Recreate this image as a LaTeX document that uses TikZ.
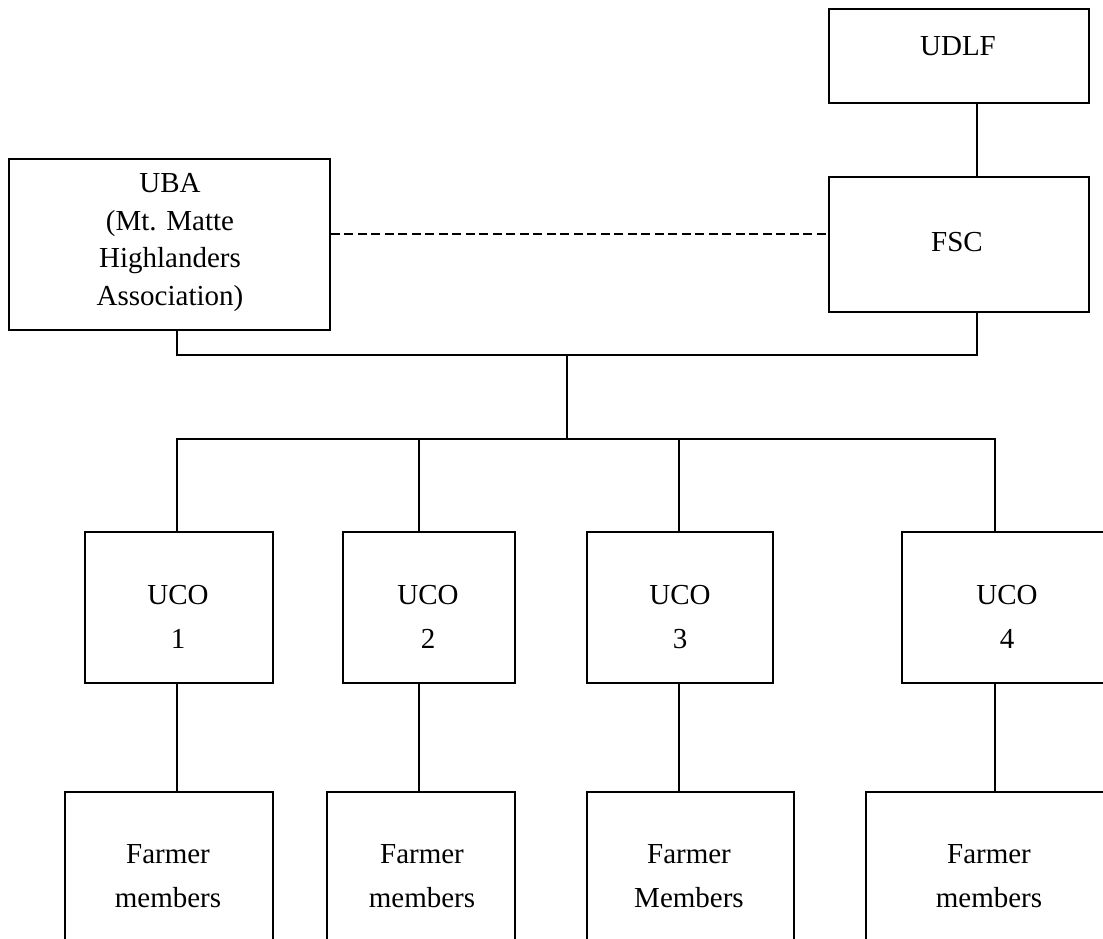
\documentclass[tikz,border=0pt]{standalone}
\usepackage{fontspec}
\setmainfont{Liberation Serif}
\begin{document}
\begin{tikzpicture}[x=1pt,y=-1pt,
  box/.style={draw=black, line width=1.6pt, rectangle, inner sep=0pt, fill=none},
  txt/.style={inner sep=0pt, align=center, font=\fontsize{29}{43.5}\selectfont},
  txtuba/.style={inner sep=0pt, align=center, font=\fontsize{29}{37.5}\selectfont},
  link/.style={draw=black, line width=1.6pt},
  dlink/.style={draw=black, line width=1.8pt, dash pattern=on 9pt off 4.5pt}]
\useasboundingbox (0,0) rectangle (1103,938);
\clip (0,0) rectangle (1103,938);
% top row
\node[box, minimum width=260pt, minimum height=94pt] (udlf) at (959,56) {};
\node[box, minimum width=260pt, minimum height=135pt] (fsc) at (959,244.5) {};
\node[box, minimum width=321pt, minimum height=171pt] (uba) at (169.5,244.5) {};
\node[txt, anchor=base] (udlft) at (958,55) {UDLF};
\node[txt, anchor=base] (fsct) at (957,251) {FSC};
\node[txtuba, anchor=base] (ubat) at (170,305) {UBA\\(Mt. Matte\\Highlanders\\Association)};
% UCO row
\node[box, minimum width=188pt, minimum height=151pt] (uco1) at (179,607.5) {};
\node[box, minimum width=172pt, minimum height=151pt] (uco2) at (429,607.5) {};
\node[box, minimum width=186pt, minimum height=151pt] (uco3) at (680,607.5) {};
\node[box, minimum width=210pt, minimum height=151pt] (uco4) at (1007,607.5) {};
\node[txt, anchor=base] (uco1t) at (178,648) {UCO\\1};
\node[txt, anchor=base] (uco2t) at (428,648) {UCO\\2};
\node[txt, anchor=base] (uco3t) at (680,648) {UCO\\3};
\node[txt, anchor=base] (uco4t) at (1007,648) {UCO\\4};
% Farmer row
\node[box, minimum width=208pt, minimum height=220pt] (fm1) at (169,902) {};
\node[box, minimum width=188pt, minimum height=220pt] (fm2) at (421,902) {};
\node[box, minimum width=207pt, minimum height=220pt] (fm3) at (690.5,902) {};
\node[box, minimum width=246pt, minimum height=220pt] (fm4) at (989,902) {};
\node[txt, anchor=base] (fm1t) at (168,907) {Farmer\\members};
\node[txt, anchor=base] (fm2t) at (422,907) {Farmer\\members};
\node[txt, anchor=base] (fm3t) at (689,907) {Farmer\\Members};
\node[txt, anchor=base] (fm4t) at (989,907) {Farmer\\members};
% junction coordinates
\coordinate (cL) at (177,355);
\coordinate (cR) at (977,355);
\coordinate (tT) at (567,355);
\coordinate (tB) at (567,439);
\coordinate (b1) at (177,439);
\coordinate (b2) at (419,439);
\coordinate (b3) at (679,439);
\coordinate (b4) at (995,439);
\coordinate (dy) at (0,234);
% connectors
\draw[link] (udlf.south -| cR) -- (fsc.north -| cR);
\draw[dlink] (uba.east |- dy) -- (fsc.west |- dy);
\draw[link] (uba.south -| cL) -- (cL) -- (cR) -- (fsc.south -| cR);
\draw[link] (tT) -- (tB);
\draw[link] (uco1.north -| b1) -- (b1) -- (b4) -- (uco4.north -| b4);
\draw[link] (b2) -- (uco2.north -| b2);
\draw[link] (b3) -- (uco3.north -| b3);
\draw[link] (uco1.south -| b1) -- (fm1.north -| b1);
\draw[link] (uco2.south -| b2) -- (fm2.north -| b2);
\draw[link] (uco3.south -| b3) -- (fm3.north -| b3);
\draw[link] (uco4.south -| b4) -- (fm4.north -| b4);
\end{tikzpicture}
\end{document}
